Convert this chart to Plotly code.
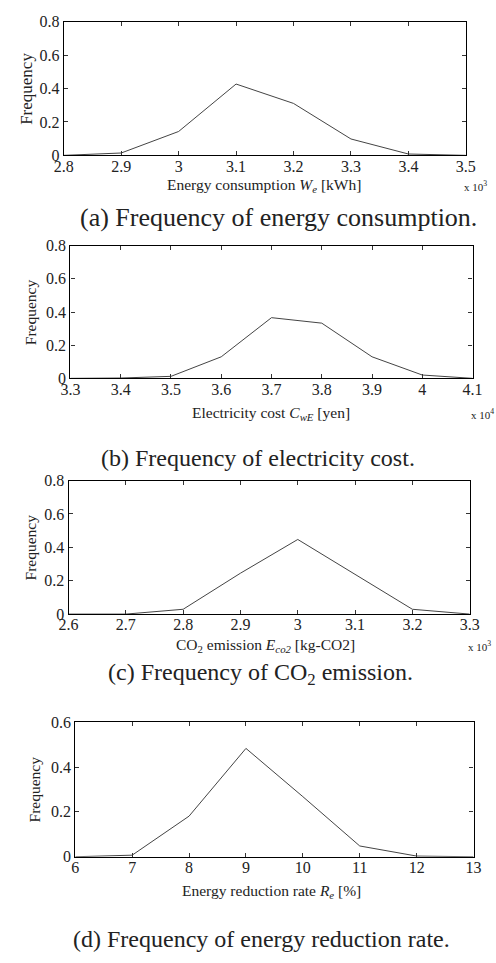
import plotly.graph_objects as go

W, H = 496, 963

# ---------------- data ----------------
energy_x = [2.8, 2.9, 3.0, 3.1, 3.2, 3.3, 3.4, 3.5]
energy_freq = [0.0, 0.014, 0.143, 0.427, 0.311, 0.098, 0.008, 0.0]

cost_x = [3.3, 3.4, 3.5, 3.6, 3.7, 3.8, 3.9, 4.0, 4.1]
cost_freq = [0.0, 0.002, 0.012, 0.130, 0.366, 0.333, 0.130, 0.020, 0.0]

co2_x = [2.6, 2.7, 2.8, 2.9, 3.0, 3.1, 3.2, 3.3]
co2_freq = [0.0, 0.0, 0.029, 0.245, 0.447, 0.238, 0.029, 0.0]

rate_x = [6, 7, 8, 9, 10, 11, 12, 13]
rate_freq = [0.0, 0.007, 0.181, 0.483, 0.268, 0.048, 0.003, 0.0]

xtitles = ["Energy consumption <i>W<sub>e</sub></i> [kWh]",
           "Electricity cost <i>C<sub>wE</sub></i> [yen]",
           "CO<sub>2</sub> emission <i>E<sub>co2</sub></i> [kg-CO2]",
           "Energy reduction rate <i>R<sub>e</sub></i> [%]"]
captions = ["(a) Frequency of energy consumption.",
            "(b) Frequency of electricity cost.",
            "(c) Frequency of CO<sub>2</sub> emission.",
            "(d) Frequency of energy reduction rate."]
exponents = ["x 10<sup>3</sup>", "x 10<sup>4</sup>", "x 10<sup>3</sup>", None]
xranges = [[2.8, 3.5], [3.3, 4.1], [2.6, 3.3], [6, 13]]
xdticks = [0.1, 0.1, 0.1, 1]
yranges = [[0, 0.8], [0, 0.8], [0, 0.8], [0, 0.6]]
ydticks = [0.2, 0.2, 0.2, 0.2]

# ---------------- layout (pixel boxes) ----------------
boxes = [  # left, right, top, bottom in pixels
    (56, 475, 14, 150),
    (63, 482, 242, 377),
    (61, 479, 481, 617),
    (68, 483, 727, 864),
]
xtitle_y = [181, 413, 649, 899]
xtitle_x = [265, 272, 266, 272]
caption_y = [213, 458, 678, 948]
caption_x = [280, 258, 261, 262]
caption_size = [26, 24, 24, 24]
title_sizes = [15.5, 15.5, 15.5, 15.5]
ytitle_x = [17, 21, 21, 25]
ytitle_size = [17, 15.5, 15.5, 15.5]

FONT = "Liberation Serif, Times New Roman, serif"
fig = go.Figure()
series = [(energy_x, energy_freq), (cost_x, cost_freq), (co2_x, co2_freq), (rate_x, rate_freq)]
anns = []


def axcommon():
    return dict(showgrid=False, zeroline=False, showline=True, linecolor="black",
                linewidth=1.3, mirror="ticks", ticks="inside", ticklen=4,
                tickcolor="#333", tickwidth=1,
                tickfont=dict(family=FONT, size=16, color="#222"))


for i, ((xs, ys), (l, r, t, b)) in enumerate(zip(series, boxes)):
    n = "" if i == 0 else str(i + 1)
    fig.add_trace(go.Scatter(x=xs, y=ys, mode="lines",
                             line=dict(color="#444444", width=1),
                             xaxis="x" + n, yaxis="y" + n, showlegend=False))
    fig.update_layout(**{
        "xaxis" + n: dict(domain=[l / W, r / W], range=xranges[i], dtick=xdticks[i],
                          tick0=xranges[i][0], anchor="y" + n, ticklabelstandoff=-4,
                          **axcommon()),
        "yaxis" + n: dict(domain=[1 - b / H, 1 - t / H], range=yranges[i], dtick=ydticks[i],
                          tick0=0, anchor="x" + n, **axcommon()),
    })
    anns.append(dict(x=xtitle_x[i] / W, y=1 - xtitle_y[i] / H, xref="paper", yref="paper",
                     text=xtitles[i], showarrow=False, xanchor="center", yanchor="middle",
                     font=dict(family=FONT, size=title_sizes[i], color="#222")))
    anns.append(dict(x=caption_x[i] / W, y=1 - caption_y[i] / H, xref="paper", yref="paper",
                     text=captions[i], showarrow=False, xanchor="center", yanchor="middle",
                     font=dict(family=FONT, size=caption_size[i], color="#222")))
    anns.append(dict(x=ytitle_x[i] / W, y=1 - (t + b) / 2 / H, xref="paper", yref="paper",
                     text="Frequency", textangle=-90, showarrow=False,
                     xanchor="center", yanchor="middle",
                     font=dict(family=FONT, size=ytitle_size[i], color="#222")))
    if exponents[i]:
        anns.append(dict(x=(r + 10) / W, y=1 - (xtitle_y[i]) / H, xref="paper", yref="paper",
                         text=exponents[i], showarrow=False, xanchor="center", yanchor="middle",
                         font=dict(family=FONT, size=11, color="#222")))

fig.update_layout(width=W, height=H, margin=dict(l=0, r=0, t=0, b=0),
                  font=dict(family=FONT, size=16, color="#222"),
                  paper_bgcolor="white", plot_bgcolor="white", annotations=anns)
fig.write_html("out.html")
